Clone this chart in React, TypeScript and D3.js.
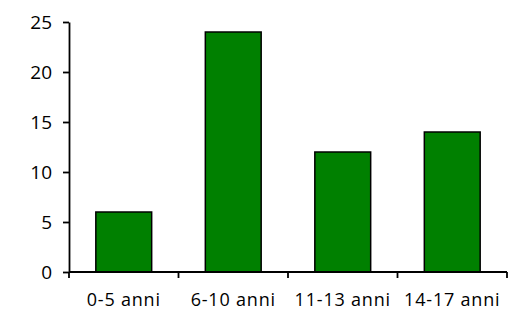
import React, { useRef, useEffect } from "react";
import * as d3 from "d3";

const CATEGORIES = ["0-5 anni", "6-10 anni", "11-13 anni", "14-17 anni"];
const VALUES = [6, 24, 12, 14];
const Y_TICKS = [0, 5, 10, 15, 20, 25];

const WIDTH = 514;
const HEIGHT = 313;
const MARGIN = { top: 22, right: 7, bottom: 41, left: 69 };
const FONT = "'Open Sans', 'Liberation Sans', sans-serif";

export default function App() {
  const svgRef = useRef<SVGSVGElement | null>(null);

  useEffect(() => {
    const svg = d3.select(svgRef.current);
    svg.selectAll("*").remove();

    const innerW = WIDTH - MARGIN.left - MARGIN.right;
    const innerH = HEIGHT - MARGIN.top - MARGIN.bottom;

    // ── Scales ──────────────────────────────────────────────
    const x = d3.scaleBand<string>().domain(CATEGORIES).range([0, innerW]).padding(0);
    const y = d3.scaleLinear().domain([0, 25]).range([innerH, 0]);
    const barW = x.bandwidth() * 0.51;

    const g = svg
      .append("g")
      .attr("transform", `translate(${MARGIN.left},${MARGIN.top})`);

    // ── Bars ────────────────────────────────────────────────
    g.selectAll("rect.bar")
      .data(VALUES)
      .join("rect")
      .attr("class", "bar")
      .attr("x", (_d, i) => (x(CATEGORIES[i]) ?? 0) + (x.bandwidth() - barW) / 2)
      .attr("y", (d) => y(d))
      .attr("width", barW)
      .attr("height", (d) => innerH - y(d))
      .attr("fill", "#008000")
      .attr("stroke", "#000")
      .attr("stroke-width", 1.5);

    // ── Y axis ──────────────────────────────────────────────
    const yAxis = g
      .append("g")
      .call(d3.axisLeft(y).tickValues(Y_TICKS).tickSize(6).tickPadding(11).tickSizeOuter(0));
    yAxis.select(".domain").attr("stroke", "#000").attr("stroke-width", 1.8);
    yAxis.selectAll(".tick line").attr("stroke", "#000").attr("stroke-width", 1.8);
    yAxis
      .selectAll(".tick text")
      .attr("font-family", FONT)
      .attr("font-size", 19)
      .attr("fill", "#000");

    // ── X axis ──────────────────────────────────────────────
    const edges = CATEGORIES.map((c) => x(c) ?? 0).concat([innerW]);
    const xAxis = g.append("g").attr("transform", `translate(0,${innerH})`);
    xAxis
      .append("line")
      .attr("x1", 0)
      .attr("x2", innerW)
      .attr("stroke", "#000")
      .attr("stroke-width", 1.8);
    xAxis
      .selectAll("line.tick")
      .data(edges)
      .join("line")
      .attr("class", "tick")
      .attr("x1", (d) => d)
      .attr("x2", (d) => d)
      .attr("y1", 0)
      .attr("y2", 6)
      .attr("stroke", "#000")
      .attr("stroke-width", 1.8);
    xAxis
      .selectAll("text")
      .data(CATEGORIES)
      .join("text")
      .attr("x", (d) => (x(d) ?? 0) + x.bandwidth() / 2)
      .attr("y", 34)
      .attr("text-anchor", "middle")
      .attr("font-family", FONT)
      .attr("font-size", 18)
      .attr("letter-spacing", 0.8)
      .attr("fill", "#000")
      .text((d) => d);
  }, []);

  return (
    <svg
      ref={svgRef}
      width={WIDTH}
      height={HEIGHT}
      style={{ position: "absolute", left: 0, top: 0, background: "#fff" }}
    />
  );
}
